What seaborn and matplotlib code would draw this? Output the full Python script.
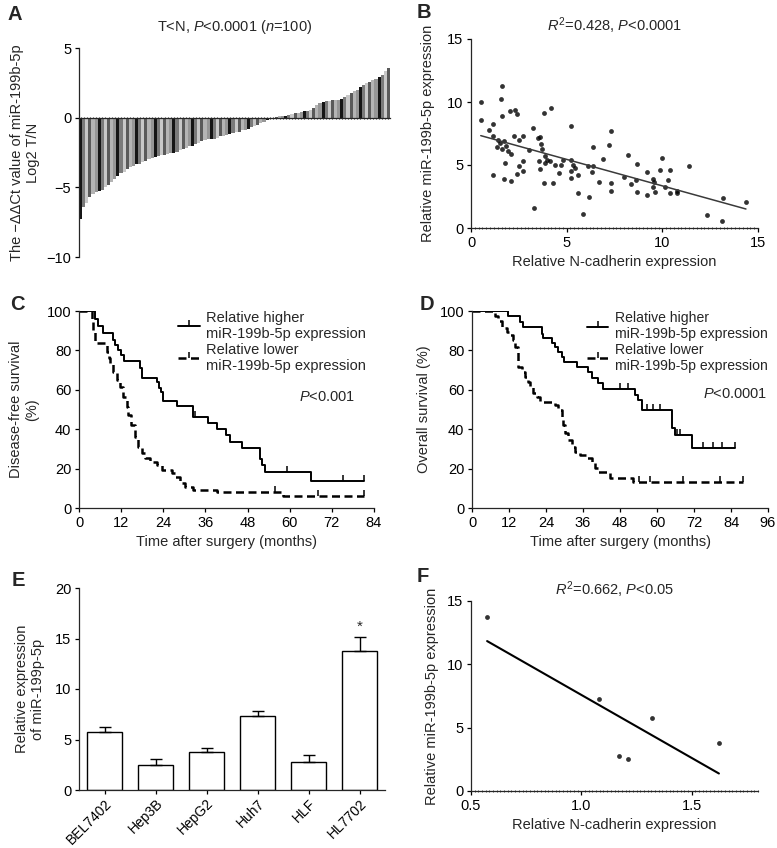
import numpy as np
import matplotlib
matplotlib.use('Agg')
import matplotlib.pyplot as plt
from matplotlib.lines import Line2D
from matplotlib.ticker import MultipleLocator
import seaborn as sns

# A: -ddCt of miR-199b-5p (log2 T/N), 100 patients, sorted
a_vals = [-7.3, -6.4, -6.1, -5.7, -5.5, -5.35, -5.25, -5.2, -4.95, -4.8,
          -4.6, -4.4, -4.2, -4.0, -3.9, -3.7, -3.55, -3.45, -3.35, -3.3,
          -3.2, -3.1, -3.0, -2.9, -2.85, -2.75, -2.7, -2.65, -2.6, -2.55,
          -2.5, -2.45, -2.35, -2.25, -2.15, -2.05, -2.0, -1.9, -1.8, -1.65,
          -1.6, -1.55, -1.55, -1.5, -1.45, -1.35, -1.3, -1.25, -1.2, -1.1,
          -1.05, -1.0, -0.9, -0.85, -0.8, -0.7, -0.6, -0.5, -0.4, -0.3,
          -0.2, -0.1, -0.05, 0.05, 0.1, 0.12, 0.15, 0.2, 0.25, 0.3,
          0.35, 0.4, 0.45, 0.5, 0.55, 0.7, 0.9, 1.05, 1.15, 1.2,
          1.2, 1.25, 1.25, 1.3, 1.35, 1.5, 1.65, 1.8, 1.9, 2.0,
          2.2, 2.35, 2.5, 2.55, 2.7, 2.8, 2.9, 3.05, 3.35, 3.6]
a_shades = ['#151515', '#7a7a7a', '#c8c8c8', '#5a5a5a', '#b4b4b4', '#969696']

# B: N-cadherin vs miR-199b-5p in tissues
b_ncad = [0.51, 0.51, 0.96, 1.13, 1.13, 1.13, 1.34, 1.43, 1.55, 1.62, 1.62, 1.52, 1.6,
          1.72, 1.79, 1.74, 1.83, 1.93, 2.04, 2.11, 2.11, 2.25, 2.32, 2.42, 2.42, 2.53,
          2.53, 2.70, 2.70, 2.70, 3.01, 3.22, 3.31, 3.52, 3.61, 3.57, 3.61, 3.64, 3.71,
          3.82, 3.82, 3.89, 3.89, 3.96, 4.13, 4.2, 4.30, 4.41, 4.62, 4.72, 4.83, 5.21,
          5.21, 5.21, 5.21, 5.35, 5.42, 5.59, 5.59, 5.84, 6.11, 6.18, 6.31, 6.39, 6.39,
          6.67, 6.88, 7.20, 7.30, 7.30, 7.30, 8.0, 8.19, 8.38, 8.62, 8.69, 8.69, 9.18,
          9.18, 9.49, 9.53, 9.56, 9.63, 9.88, 9.98, 10.16, 10.30, 10.40, 10.40, 10.78,
          10.78, 11.38, 12.32, 13.12, 13.19, 14.37]
b_mir = [10.03, 8.55, 7.76, 8.23, 7.33, 4.17, 6.39, 7.02, 10.24, 11.27, 8.89, 6.75, 6.3,
         6.91, 5.12, 3.85, 6.49, 6.12, 9.26, 5.86, 3.75, 7.28, 9.39, 9.05, 4.27, 6.97,
         4.91, 7.33, 5.28, 4.54, 6.23, 7.92, 1.58, 7.12, 7.23, 5.28, 4.72, 6.70, 6.28,
         9.16, 3.54, 5.70, 5.12, 5.38, 5.28, 9.53, 3.59, 5.01, 4.33, 5.01, 5.38, 8.07,
         5.38, 4.54, 3.96, 4.99, 4.75, 4.17, 2.74, 1.11, 4.91, 2.48, 4.41, 6.44, 4.96,
         3.64, 5.44, 6.57, 7.68, 3.54, 2.96, 4.06, 5.83, 3.48, 3.80, 5.04, 2.82, 4.43,
         2.64, 3.88, 3.27, 3.67, 2.82, 4.59, 5.59, 3.22, 3.80, 2.80, 4.59, 2.90,
         2.74, 4.91, 1.0, 0.53, 2.37, 2.08]

# C: disease-free survival
c_high_t = [0, 4.6, 5.5, 6.9, 9.8, 10.3, 11.2, 11.9, 12.8, 17.4, 17.9, 22.1, 22.9, 23.4,
            24.0, 28.0, 32.4, 36.8, 39.2, 41.9, 43.0, 46.3, 51.5, 52.0, 53.0, 66.0, 81.2]
c_high_s = [100, 96.0, 92.4, 88.7, 85.3, 82.7, 80.2, 77.7, 74.6, 70.9, 65.8, 63.8, 61.0, 59.0,
            54.5, 51.8, 46.0, 43.0, 40.0, 37.0, 33.7, 30.6, 24.7, 22.0, 18.3, 13.7, 13.7]
c_high_cens_t = [33.0, 59.3, 75.3, 81.2]
c_high_cens_s = [46.0, 18.3, 13.7, 13.7]
c_low_t = [0, 3.6, 4.1, 4.6, 7.9, 8.4, 8.8, 9.8, 10.7, 11.7, 12.6, 13.6, 14.0, 14.7, 15.9,
           16.9, 17.8, 18.8, 20.2, 22.1, 23.5, 26.4, 27.3, 28.8, 30.2, 32.5, 39.2, 58.2, 81.2]
c_low_s = [100, 95, 90, 83.6, 79.4, 76.0, 73.3, 69.2, 65.0, 61.6, 56.5, 51.4, 47.2, 42.1, 36.2,
           31.1, 27.7, 25.5, 23.5, 21.8, 19.3, 17.7, 15.9, 12.5, 10.8, 9.3, 8.0, 6.2, 6.2]
c_low_cens_t = [55.8, 68.0, 81.2]
c_low_cens_s = [8.0, 6.2, 6.2]

# D: overall survival
d_high_t = [0, 11.8, 15.6, 16.6, 22.6, 23.1, 25.8, 26.9, 28.0, 29.1, 29.8, 33.9, 37.7, 38.8,
            41.0, 42.6, 52.9, 53.9, 55.0, 64.8, 65.8, 71.3, 85.3]
d_high_s = [100, 97.6, 94.6, 91.7, 88.5, 86.1, 83.6, 81.9, 79.4, 76.8, 74.3, 71.7, 69.2, 65.8,
            63.3, 60.2, 57.4, 54.8, 49.7, 40.4, 37.0, 30.3, 30.3]
d_high_cens_t = [48.0, 50.7, 56.6, 58.8, 61.0, 66.4, 67.5, 75.0, 78.3, 81.0, 85.3]
d_high_cens_s = [60.2, 60.2, 49.7, 49.7, 49.7, 37.0, 37.0, 30.3, 30.3, 30.3, 30.3]
d_low_t = [0, 7.5, 8.5, 9.6, 11.2, 12.3, 13.4, 13.9, 15.0, 16.1, 17.2, 18.3, 18.8, 19.9, 21.0,
           22.1, 26.9, 28.0, 29.1, 29.6, 30.2, 31.2, 32.3, 33.4, 35.0, 37.2, 38.8, 39.9, 41.0,
           44.8, 52.3, 88.0]
d_low_s = [100, 97.5, 94.9, 91.2, 89.5, 87.8, 85.3, 81.9, 71.7, 69.2, 66.7, 64.1, 61.6, 58.2,
           56.5, 53.9, 52.3, 49.7, 46.4, 42.1, 37.9, 34.5, 31.1, 28.6, 26.9, 25.2, 22.7, 20.1,
           18.4, 15.1, 13.4, 13.4]
d_low_cens_t = [54.0, 57.7, 68.5, 80.4, 88.0]
d_low_cens_s = [13.4, 13.4, 13.4, 13.4, 13.4]

# E: cell lines
e_cells = ['BEL7402', 'Hep3B', 'HepG2', 'Huh7', 'HLF', 'HL7702']
e_mean = [5.77, 2.47, 3.79, 7.33, 2.74, 13.75]
e_err = [0.45, 0.6, 0.33, 0.52, 0.73, 1.4]

# F: cell line N-cadherin vs miR-199b-5p
f_ncad = [1.318, 1.21, 1.623, 1.08, 1.171, 0.573]
f_mir = [5.79, 2.5, 3.76, 7.29, 2.76, 13.7]

FS = 10.5
sns.set_style('ticks')
plt.rcParams['font.family'] = ['Liberation Sans', 'DejaVu Sans']
plt.rcParams['mathtext.fontset'] = 'custom'
plt.rcParams['mathtext.rm'] = 'Liberation Sans'
plt.rcParams['mathtext.it'] = 'Liberation Sans:italic'
plt.rcParams['font.size'] = FS
plt.rcParams['axes.labelsize'] = FS
plt.rcParams['axes.linewidth'] = 0.9
plt.rcParams['xtick.major.width'] = 0.9
plt.rcParams['ytick.major.width'] = 0.9
plt.rcParams['xtick.major.size'] = 3
plt.rcParams['ytick.major.size'] = 3
plt.rcParams['xtick.major.pad'] = 2.5
plt.rcParams['ytick.major.pad'] = 2.5
plt.rcParams['xtick.labelsize'] = FS
plt.rcParams['ytick.labelsize'] = FS

W, H = 777, 848
fig = plt.figure(figsize=(W / 100, H / 100), dpi=100)


def box(l, r, t, b):
    return [l / W, 1 - b / H, (r - l) / W, (b - t) / H]


def style(ax):
    sns.despine(ax=ax)
    ax.tick_params(colors='k', labelcolor='k')
    ax.set_xlabel('')
    ax.set_ylabel('')


# ---------- A
axA = fig.add_axes(box(79, 390, 48, 257))
idx = list(range(len(a_vals)))
sns.barplot(x=idx, y=a_vals, hue=idx, palette=[a_shades[i % 6] for i in idx],
            width=1.0, linewidth=0, legend=False, ax=axA)
style(axA)
axA.set_ylim(-10, 5)
axA.set_xlim(-0.5, len(a_vals) - 0.5)
axA.set_yticks([-10, -5, 0, 5])
axA.spines['bottom'].set_position(('data', 0))
axA.set_xticks(idx, labels=[''] * len(idx))
axA.tick_params(axis='x', length=1.5, width=0.6, direction='inout')
axA.set_title(r'T<N, $\it{P}$<0.0001 ($\it{n}$=100)', fontsize=FS, pad=12)
axA.set_ylabel('The \u2212\u0394\u0394Ct value of miR-199b-5p\nLog2 T/N')
axA.yaxis.set_label_coords(-0.125, 0.5)

# ---------- B
axB = fig.add_axes(box(471, 758, 39, 228))
sns.regplot(x=b_ncad, y=b_mir, ci=None, truncate=True, ax=axB,
            scatter_kws=dict(s=12, color='k', linewidths=0),
            line_kws=dict(color='#3a3a3a', lw=1.1))
style(axB)
axB.set_xlim(0, 15)
axB.set_ylim(0, 15)
axB.set_xticks([0, 5, 10, 15])
axB.set_yticks([0, 5, 10, 15])
axB.xaxis.set_minor_locator(MultipleLocator(0.2))
axB.tick_params(axis='x', which='minor', length=2, width=0.6, direction='inout')
axB.set_title(r'$\it{R}^2$=0.428, $\it{P}$<0.0001', fontsize=FS, pad=6)
axB.set_xlabel('Relative N-cadherin expression')
axB.set_ylabel('Relative miR-199b-5p expression')
axB.yaxis.set_label_coords(-0.125, 0.5)


# ---------- C, D
def km(ax, ht, hs, hct, hcs, lt, ls_, lct, lcs):
    sns.lineplot(x=ht, y=hs, drawstyle='steps-post', estimator=None, sort=False,
                 color='k', lw=1.4, ax=ax)
    sns.lineplot(x=lt, y=ls_, drawstyle='steps-post', estimator=None, sort=False,
                 color='k', lw=1.8, linestyle=(0, (3.2, 1.8)), ax=ax)
    ax.plot(hct, hcs, ls='none', marker=2, ms=4, mew=1.1, color='k')
    ax.plot(lct, lcs, ls='none', marker=2, ms=4, mew=1.1, color='k')
    style(ax)
    ax.set_ylim(0, 100)
    ax.set_yticks(range(0, 101, 20))
    ax.set_xlabel('Time after surgery (months)')


axC = fig.add_axes(box(79, 374, 311, 508))
km(axC, c_high_t, c_high_s, c_high_cens_t, c_high_cens_s,
   c_low_t, c_low_s, c_low_cens_t, c_low_cens_s)
axC.set_xlim(0, 84)
axC.set_xticks(range(0, 85, 12))
axC.set_ylabel('Disease-free survival\n(%)')
axC.yaxis.set_label_coords(-0.135, 0.5)

axD = fig.add_axes(box(472, 768, 311, 508))
km(axD, d_high_t, d_high_s, d_high_cens_t, d_high_cens_s,
   d_low_t, d_low_s, d_low_cens_t, d_low_cens_s)
axD.set_xlim(0, 96)
axD.set_xticks(range(0, 97, 12))
axD.set_ylabel('Overall survival (%)')
axD.yaxis.set_label_coords(-0.14, 0.5)

handles = [Line2D([], [], color='k', lw=1.4, marker=2, ms=4, mew=1.1),
           Line2D([], [], color='k', lw=1.8, linestyle=(0, (3.2, 1.8)), marker=2, ms=4, mew=1.1)]
labels = ['Relative higher\nmiR-199b-5p expression', 'Relative lower\nmiR-199b-5p expression']
for ax, xa, px, py, ptxt, lfs in [(axC, 0.335, 0.84, 0.565, r'$\it{P}$<0.001', FS),
                                  (axD, 0.39, 0.89, 0.58, r'$\it{P}$<0.0001', 10.1)]:
    ax.legend(handles, labels, loc='upper left', bbox_to_anchor=(xa, 1.0), frameon=False,
              handlelength=1.5, handletextpad=0.45, borderpad=0, borderaxespad=0,
              labelspacing=0.1, fontsize=lfs, numpoints=1)
    ax.text(px, py, ptxt, transform=ax.transAxes, ha='center', va='center', fontsize=FS)

# ---------- E
axE = fig.add_axes(box(79, 385, 588, 790))
sns.barplot(x=e_cells, y=e_mean, color='white', edgecolor='k', linewidth=1.0,
            width=0.67, ax=axE)
axE.errorbar(range(len(e_cells)), e_mean, yerr=[[0] * len(e_err), e_err], fmt='none',
             ecolor='k', elinewidth=1.0, capsize=4.5, capthick=1.0)
style(axE)
axE.set_ylim(0, 20)
axE.set_xlim(-0.5, 5.5)
axE.set_yticks([0, 5, 10, 15, 20])
axE.set_xticks(range(len(e_cells)), labels=e_cells, rotation=45, ha='right',
               rotation_mode='anchor', fontsize=10)
axE.tick_params(axis='x', pad=1.5)
axE.annotate('*', (5, e_mean[5] + e_err[5]), xytext=(0, 2), textcoords='offset points',
             ha='center', va='bottom', fontsize=11)
axE.set_ylabel('Relative expression\nof miR-199p-5p')
axE.yaxis.set_label_coords(-0.11, 0.5)

# ---------- F
axF = fig.add_axes(box(471, 758, 601, 791))
sns.regplot(x=f_ncad, y=f_mir, ci=None, truncate=True, ax=axF,
            scatter_kws=dict(s=12, color='k', linewidths=0),
            line_kws=dict(color='k', lw=1.5))
style(axF)
axF.set_xlim(0.5, 1.8)
axF.set_ylim(0, 15)
axF.set_xticks([0.5, 1.0, 1.5], labels=['0.5', '1.0', '1.5'])
axF.set_yticks([0, 5, 10, 15])
axF.xaxis.set_minor_locator(MultipleLocator(1 / 60))
axF.tick_params(axis='x', which='minor', length=2, width=0.6, direction='inout')
axF.set_title(r'$\it{R}^2$=0.662, $\it{P}$<0.05', fontsize=FS, pad=4)
axF.set_xlabel('Relative N-cadherin expression')
axF.set_ylabel('Relative miR-199b-5p expression')
axF.yaxis.set_label_coords(-0.11, 0.5)

# panel letters
for letter, x, y in [('A', 8, 14), ('B', 417, 13), ('C', 10, 305),
                     ('D', 420, 305), ('E', 12, 580), ('F', 417, 577)]:
    fig.text(x / W, 1 - y / H, letter, fontsize=14.5, fontweight='bold', ha='left', va='center')

fig.savefig('out.png', dpi=100)
